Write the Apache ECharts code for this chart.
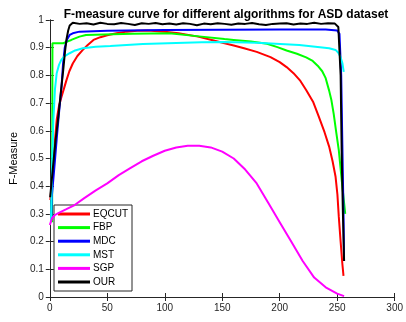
<!DOCTYPE html>
<html>
<head>
<meta charset="utf-8">
<script src="https://cdn.jsdelivr.net/npm/echarts@6/dist/echarts.min.js"></script>
<style>
  html, body { margin: 0; padding: 0; background: #fff; }
  #main { width: 406px; height: 322px; }
</style>
</head>
<body>
<div id="main"></div>
<script>
// threshold positions (x) and F-measure values per algorithm
const eqcutX = [0.5, 2, 4, 6, 8, 10.2, 12.5, 14.5, 17, 20, 24, 28.7, 33, 38, 44, 50, 58, 67, 76, 85, 100, 112, 129, 140, 152, 160, 169, 180, 192, 200, 206, 212, 218, 223, 229, 234, 239, 243, 246, 248.6, 250.2, 251.4, 253, 254.5, 255.5];
const eqcutY = [0.35, 0.43, 0.54, 0.64, 0.69, 0.723, 0.755, 0.783, 0.815, 0.843, 0.87, 0.892, 0.91, 0.928, 0.938, 0.945, 0.952, 0.958, 0.961, 0.962, 0.958, 0.952, 0.94, 0.929, 0.916, 0.908, 0.898, 0.885, 0.866, 0.848, 0.83, 0.808, 0.78, 0.747, 0.705, 0.651, 0.595, 0.543, 0.49, 0.434, 0.37, 0.29, 0.2, 0.12, 0.076];

const fbpX = [2, 2.3, 11.7, 15, 18.7, 25.8, 31.5, 47, 72, 104, 132, 152, 160, 175, 189, 198, 206, 215, 223, 228.7, 233, 237, 240, 243, 245, 247, 249, 251.4, 254, 257];
const fbpY = [0.27, 0.916, 0.916, 0.922, 0.928, 0.94, 0.946, 0.948, 0.95, 0.952, 0.94, 0.931, 0.928, 0.922, 0.914, 0.902, 0.89, 0.878, 0.865, 0.852, 0.835, 0.815, 0.79, 0.745, 0.71, 0.66, 0.6, 0.53, 0.42, 0.3];

const mdcX = [1.5, 1.7, 4, 6, 8, 10.2, 11.5, 13, 15, 17.3, 20, 25.8, 50, 100, 150, 200, 240, 250, 252, 253.5, 254.5, 255.5, 256];
const mdcY = [0.29, 0.36, 0.47, 0.57, 0.665, 0.76, 0.84, 0.9, 0.93, 0.946, 0.952, 0.958, 0.961, 0.964, 0.965, 0.966, 0.966, 0.962, 0.95, 0.8, 0.55, 0.3, 0.13];

const mstX = [1, 2, 3.1, 4.5, 6, 8, 10, 13, 17.3, 22, 28.7, 40, 52.6, 81, 110, 132, 152, 180, 217, 243, 248.6, 251, 252.8, 254.5, 255.7];
const mstY = [0.27, 0.47, 0.64, 0.75, 0.808, 0.838, 0.856, 0.87, 0.88, 0.89, 0.898, 0.903, 0.906, 0.913, 0.917, 0.92, 0.921, 0.918, 0.91, 0.898, 0.892, 0.882, 0.867, 0.845, 0.813];

const sgpX = [0, 2, 4.5, 7.4, 14, 21.6, 30, 40, 50, 60, 70, 80, 90, 100, 110, 120, 130, 140, 150, 160, 170, 180, 190, 200, 210, 220, 230, 240, 250, 256];
const sgpY = [0.26, 0.285, 0.296, 0.303, 0.316, 0.332, 0.357, 0.385, 0.41, 0.44, 0.465, 0.49, 0.51, 0.528, 0.54, 0.546, 0.546, 0.54, 0.525, 0.5, 0.46, 0.41, 0.34, 0.27, 0.2, 0.13, 0.07, 0.035, 0.012, 0.003];

const ourX = [0.3, 3, 5, 7.4, 9.5, 11.7, 13.2, 14.5, 16, 17.3, 20, 26, 32, 38, 44, 50, 56, 62, 68, 74, 80, 86, 92, 98, 104, 110, 116, 122, 128, 134, 140, 146, 152, 158, 164, 170, 176, 182, 188, 194, 200, 206, 212, 218, 224, 230, 236, 242, 248, 251, 253, 254, 255, 256];
const ourY = [0.36, 0.48, 0.565, 0.65, 0.735, 0.82, 0.885, 0.93, 0.962, 0.98, 0.99, 0.986, 0.988, 0.984, 0.99, 0.986, 0.985, 0.989, 0.986, 0.982, 0.988, 0.986, 0.989, 0.985, 0.987, 0.984, 0.988, 0.986, 0.981, 0.987, 0.985, 0.988, 0.986, 0.983, 0.987, 0.986, 0.989, 0.985, 0.982, 0.986, 0.987, 0.988, 0.984, 0.987, 0.986, 0.99, 0.986, 0.988, 0.987, 0.975, 0.8, 0.5, 0.3, 0.13];

const names = ["EQCUT", "FBP", "MDC", "MST", "SGP", "OUR"];
const colors = ["#ff0000", "#00ff00", "#0000ff", "#00ffff", "#ff00ff", "#000000"];
const xTicks = [0, 50, 100, 150, 200, 250, 300];
const yTicks = ["0", "0.1", "0.2", "0.3", "0.4", "0.5", "0.6", "0.7", "0.8", "0.9", "1"];

const zip = (xs, ys) => xs.map((x, i) => [x, ys[i]]);
const allData = [
  zip(eqcutX, eqcutY), zip(fbpX, fbpY), zip(mdcX, mdcY),
  zip(mstX, mstY), zip(sgpX, sgpY), zip(ourX, ourY)
];

const chart = echarts.init(document.getElementById("main"));
const font = "Liberation Sans, Arial, sans-serif";
const axisColor = "#262626";

const baseX = {
  type: "value", min: 0, max: 300, interval: 50,
  axisLine: { show: true, lineStyle: { color: axisColor, width: 1 } },
  axisTick: { show: true, inside: true, length: 4, lineStyle: { color: axisColor } },
  splitLine: { show: false }
};
const baseY = {
  type: "value", min: 0, max: 1, interval: 0.1,
  axisLine: { show: true, lineStyle: { color: axisColor, width: 1 } },
  axisTick: { show: true, inside: true, length: 4, lineStyle: { color: axisColor } },
  splitLine: { show: false }
};

const option = {
  animation: false,
  backgroundColor: "#fff",
  title: {
    text: "F-measure curve for different algorithms for ASD dataset",
    left: 221, top: 4, textAlign: "center",
    textStyle: { fontFamily: font, fontSize: 12, fontWeight: "bold", color: "#000" }
  },
  grid: { left: 45, right: 9, top: 20, bottom: 25 },
  legend: {
    orient: "vertical", left: 54, top: 205, height: 110,
    data: names,
    icon: "rect", itemWidth: 32, itemHeight: 3, itemGap: 1.6,
    padding: [3, 4, 3, 4],
    backgroundColor: "#fff", borderColor: axisColor, borderWidth: 1, borderRadius: 0,
    textStyle: { fontFamily: font, fontSize: 10, lineHeight: 12, color: "#000", padding: [0, 0, 0, -2] }
  },
  xAxis: [
    Object.assign({}, baseX, {
      position: "bottom",
      axisLabel: { show: true, color: axisColor, fontFamily: font, fontSize: 10, margin: 6,
        formatter: v => xTicks.includes(v) ? String(v) : "" }
    }),
    Object.assign({}, baseX, { position: "top", axisLabel: { show: false } })
  ],
  yAxis: [
    Object.assign({}, baseY, {
      position: "left",
      name: "F-Measure", nameLocation: "middle", nameGap: 28,
      nameTextStyle: { fontFamily: font, fontSize: 11, color: "#000" },
      axisLabel: { show: true, color: axisColor, fontFamily: font, fontSize: 10, margin: 6,
        formatter: v => yTicks[Math.round(v * 10)] }
    }),
    Object.assign({}, baseY, { position: "right", axisLabel: { show: false } })
  ],
  series: names.map((n, i) => ({
    name: n, type: "line", data: allData[i],
    xAxisIndex: 0, yAxisIndex: 0,
    showSymbol: false, symbol: "none", smooth: false,
    lineStyle: { color: colors[i], width: 2 },
    itemStyle: { color: colors[i] },
    z: 2 + i
  }))
};

chart.setOption(option);
</script>
</body>
</html>
